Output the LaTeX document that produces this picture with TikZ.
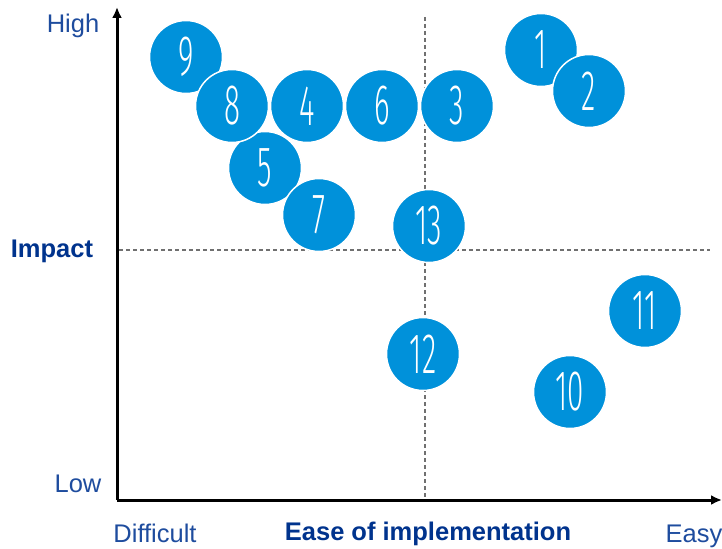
\documentclass[tikz,border=0pt]{standalone}
\usepackage{fontspec}
\setmainfont{Liberation Sans}
\newfontfamily\numfont[FakeStretch=0.52]{Fira Sans Light}
\usetikzlibrary{arrows.meta}
\definecolor{kblue}{HTML}{0091DA}
\definecolor{kdark}{HTML}{00338D}
\definecolor{klabel}{HTML}{1E4C9E}
\definecolor{kgrid}{HTML}{707070}
\tikzset{
  bubble/.style={circle, fill=kblue, draw=white, line width=1.5bp, minimum size=73bp,
    inner sep=0pt, text=white, font=\numfont\fontsize{57bp}{57bp}\selectfont},
  axislabel/.style={anchor=base, text=klabel, inner sep=0pt, font=\fontsize{25.5bp}{30bp}\selectfont},
  axistitle/.style={anchor=base, text=kdark, inner sep=0pt, font=\bfseries\fontsize{25.5bp}{30bp}\selectfont},
  axisline/.style={line width=3bp, -{Latex[length=11bp,width=10bp]}},
  gridline/.style={kgrid, line width=1.1bp, dash pattern=on 4bp off 3bp}
}
\newcommand{\bnum}[1]{\raisebox{-3bp}{#1}}
\begin{document}
\begin{tikzpicture}[x=1bp,y=-1bp]
\useasboundingbox (0,0) rectangle (722,549);
% axes
\coordinate (O) at (117,500);
\coordinate (ytop) at (117,7);
\coordinate (xend) at (722,500);
\coordinate (vtop) at (425,17);
\coordinate (vbot) at (425,500);
\coordinate (hl) at (119,250);
\coordinate (hr) at (710,250);
\draw[gridline] (vtop) -- (vbot);
\draw[gridline] (hl) -- (hr);
\draw[axisline] (O) -- (ytop);
\draw[axisline] (O) -- (xend);
% labels
\node[axislabel] (high) at (73,33) {High};
\node[axislabel] (low) at (78,492) {Low};
\node[axistitle] (impact) at (52,258) {Impact};
\node[axislabel] (difficult) at (155,542) {Difficult};
\node[axistitle] (ease) at (428,540) {Ease of implementation};
\node[axislabel] (easy) at (694,542) {Easy};
% bubbles
\node[bubble] (n9) at (186,57) {\bnum{9}};
\node[bubble] (n5) at (265,168) {\bnum{5}};
\node[bubble] (n8) at (232,106) {\bnum{8}};
\node[bubble] (n7) at (319,215) {\bnum{7}};
\node[bubble] (n4) at (307,106) {\bnum{4}};
\node[bubble] (n6) at (382,106) {\bnum{6}};
\node[bubble] (n3) at (457,106) {\bnum{3}};
\node[bubble] (n13) at (429,226) {\bnum{13}};
\node[bubble] (n12) at (423,354) {\bnum{12}};
\node[bubble] (n10) at (570,392) {\bnum{10}};
\node[bubble] (n11) at (645,311) {\bnum{11}};
\node[bubble] (n1) at (541,50) {\bnum{1}};
\node[bubble] (n2) at (589,91) {\bnum{2}};
\end{tikzpicture}
\end{document}
